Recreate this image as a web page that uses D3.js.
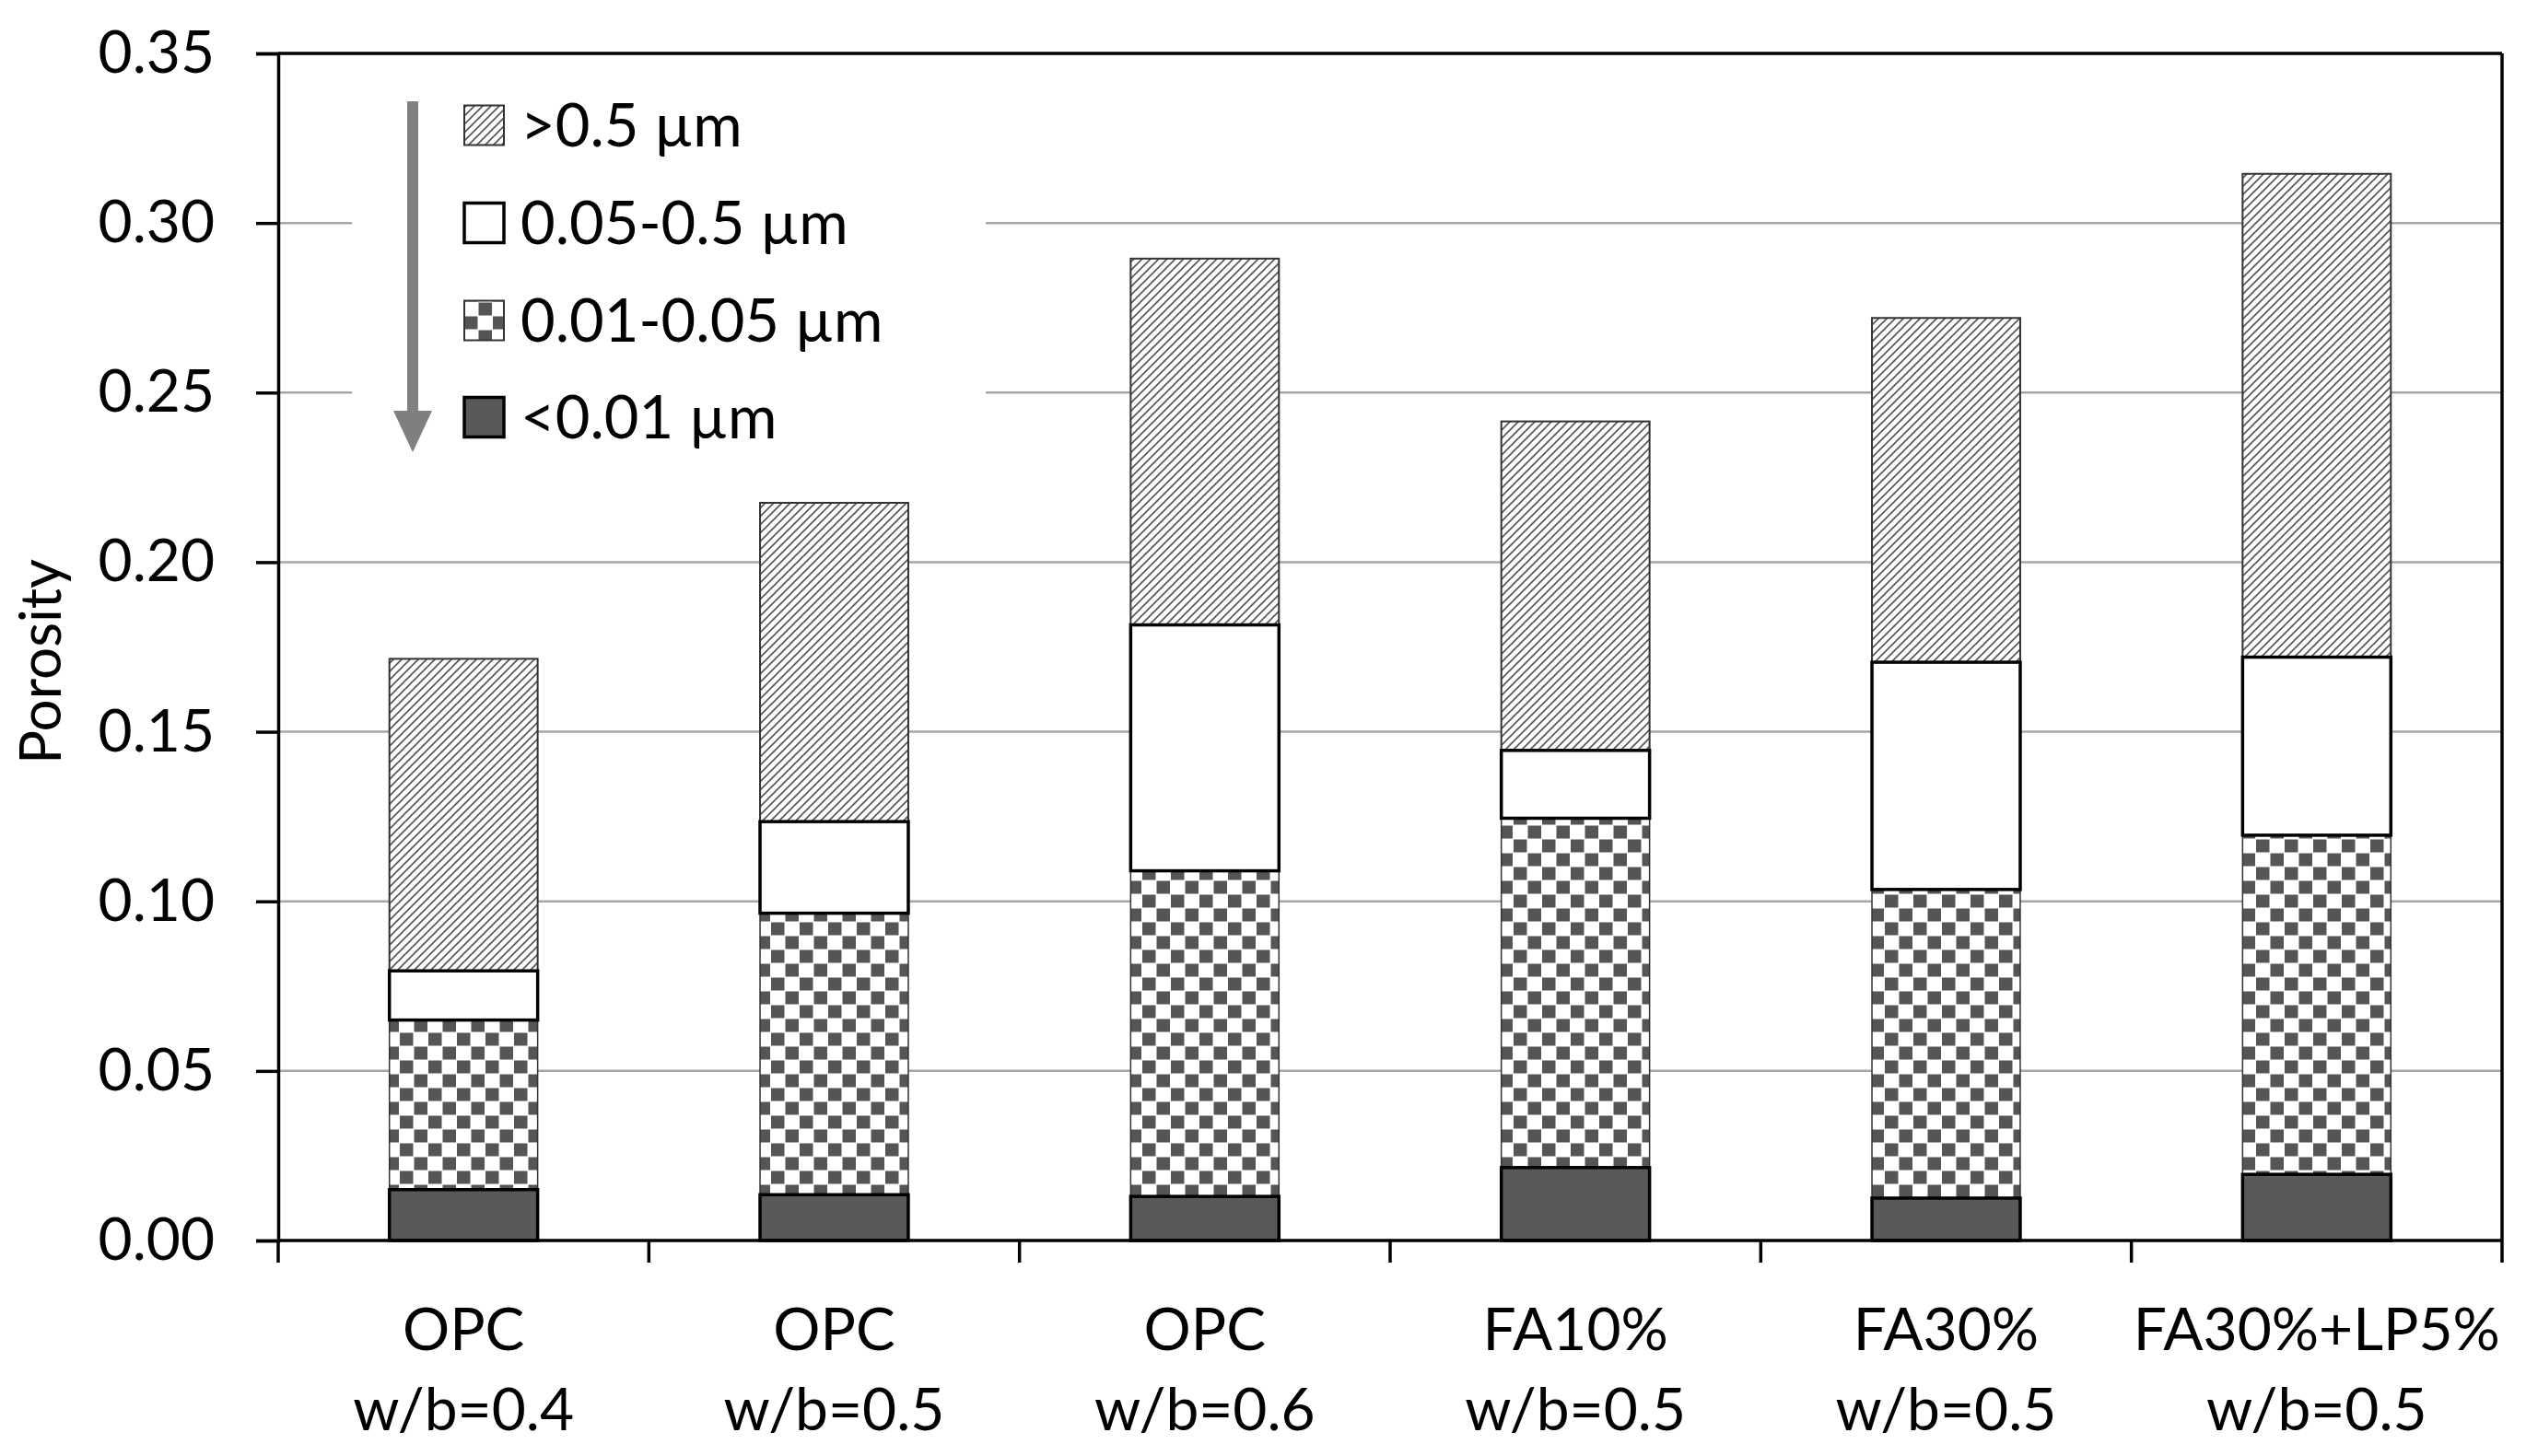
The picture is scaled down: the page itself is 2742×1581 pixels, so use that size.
<!DOCTYPE html>
<html>
<head>
<meta charset="utf-8">
<script src="https://cdn.jsdelivr.net/npm/d3@7"></script>
<style>
  html, body { margin: 0; padding: 0; background: #fff; }
  svg { display: block; }
  text { font-family: Lato, "Open Sans", sans-serif; fill: #000; }
</style>
</head>
<body>
<svg id="chart" width="2742" height="1581"></svg>
<script>
// ---------- data ----------
const categoriesLine1 = ["OPC", "OPC", "OPC", "FA10%", "FA30%", "FA30%+LP5%"];
const categoriesLine2 = ["w/b=0.4", "w/b=0.5", "w/b=0.6", "w/b=0.5", "w/b=0.5", "w/b=0.5"];
const seriesNames = ["<0.01 µm", "0.01-0.05 µm", "0.05-0.5 µm", ">0.5 µm"];
const poreLt001   = [0.015, 0.0135, 0.013, 0.0215, 0.0125, 0.0195];
const pore001_005 = [0.050, 0.083, 0.096, 0.103, 0.091, 0.100];
const pore005_05  = [0.0145, 0.027, 0.0725, 0.020, 0.067, 0.0525];
const poreGt05    = [0.092, 0.094, 0.108, 0.097, 0.1015, 0.1425];
const yTicks = [0, 0.05, 0.10, 0.15, 0.20, 0.25, 0.30, 0.35];
const yTitle = "Porosity";

// ---------- layout ----------
const W = 2742, H = 1581;
const margin = { left: 302, right: 26, top: 58, bottom: 234 };
const iw = W - margin.left - margin.right;
const ih = H - margin.top - margin.bottom;

const svg = d3.select("#chart");

// patterns
const defs = svg.append("defs");
const hp = 9;
const hatch = defs.append("pattern")
  .attr("id", "hatch").attr("patternUnits", "userSpaceOnUse")
  .attr("width", hp).attr("height", hp);
hatch.append("rect").attr("width", hp).attr("height", hp).attr("fill", "#fff");
hatch.append("path").attr("d", `M-2,${hp + 2} L${hp + 2},-2 M-2,2 L2,-2 M${hp - 2},${hp + 2} L${hp + 2},${hp - 2}`)
  .attr("stroke", "#555").attr("stroke-width", 1.6);

const checker = defs.append("pattern")
  .attr("id", "checker").attr("patternUnits", "userSpaceOnUse")
  .attr("x", margin.left).attr("y", margin.top)
  .attr("width", 31).attr("height", 30);
checker.append("rect").attr("width", 31).attr("height", 30).attr("fill", "#fff");
checker.append("rect").attr("x", 0.5).attr("y", 0.5).attr("width", 14.5).attr("height", 14).attr("fill", "#555");
checker.append("rect").attr("x", 16).attr("y", 15.5).attr("width", 14.5).attr("height", 14).attr("fill", "#555");

const styles = [
  { fill: "#595959", stroke: "#000", sw: 3.5 },
  { fill: "url(#checker)", stroke: "#333", sw: 1.5 },
  { fill: "#fff", stroke: "#000", sw: 3.5 },
  { fill: "url(#hatch)", stroke: "#333", sw: 2 }
];

const g = svg.append("g").attr("transform", `translate(${margin.left},${margin.top})`);

const idx = d3.range(categoriesLine1.length);
const x = d3.scaleBand().domain(idx).range([0, iw]).paddingInner(0.6).paddingOuter(0.3);
const y = d3.scaleLinear().domain([0, 0.35]).range([ih, 0]);

// gridlines
g.append("g").selectAll("line").data(yTicks.slice(1, -1)).join("line")
  .attr("x1", 0).attr("x2", iw)
  .attr("y1", d => y(d)).attr("y2", d => y(d))
  .attr("stroke", "#a6a6a6").attr("stroke-width", 2.5);

// legend background (hides gridlines)
const legendG = g.append("g");
legendG.append("rect")
  .attr("x", 382 - margin.left).attr("y", 70 - margin.top)
  .attr("width", 1070 - 382).attr("height", 450)
  .attr("fill", "#fff");

// stacked data
const rows = idx.map(i => ({ i, a: poreLt001[i], b: pore001_005[i], c: pore005_05[i], d: poreGt05[i] }));
const stack = d3.stack().keys(["a", "b", "c", "d"]);
const stacked = stack(rows);

// draw thin-outlined series first, then thick-outlined ones
const drawOrder = [1, 3, 2, 0];
drawOrder.forEach(k => {
  const s = stacked[k];
  g.append("g").selectAll("rect").data(s).join("rect")
    .attr("x", d => x(d.data.i))
    .attr("width", x.bandwidth())
    .attr("y", d => y(d[1]))
    .attr("height", d => y(d[0]) - y(d[1]))
    .attr("fill", styles[k].fill)
    .attr("stroke", styles[k].stroke)
    .attr("stroke-width", styles[k].sw);
});

// frame
g.append("line").attr("x1", 0).attr("x2", iw).attr("y1", 0).attr("y2", 0)
  .attr("stroke", "#000").attr("stroke-width", 3.5);
g.append("line").attr("x1", iw).attr("x2", iw).attr("y1", 0).attr("y2", ih)
  .attr("stroke", "#000").attr("stroke-width", 3.5);

// y axis
const yAxis = d3.axisLeft(y).tickValues(yTicks).tickFormat(d3.format(".2f"))
  .tickSize(24).tickPadding(45);
const ya = g.append("g").call(yAxis);
ya.select(".domain").attr("stroke", "#000").attr("stroke-width", 3.5);
ya.selectAll(".tick line").attr("stroke", "#000").attr("stroke-width", 3.5);
ya.selectAll(".tick text").attr("font-size", 64).attr("font-family", "Lato").attr("fill", "#000");

// x axis (category boundaries as ticks)
g.append("line").attr("x1", 0).attr("x2", iw).attr("y1", ih).attr("y2", ih)
  .attr("stroke", "#000").attr("stroke-width", 3.5);
const step = x.step();
const boundaries = d3.range(categoriesLine1.length + 1).map(i => x(0) - x.paddingOuter() * step + i * step);
g.append("g").selectAll("line").data(boundaries).join("line")
  .attr("x1", d => d).attr("x2", d => d)
  .attr("y1", ih).attr("y2", ih + 24)
  .attr("stroke", "#000").attr("stroke-width", 3.5);

// category labels
const lab = g.append("g").attr("font-size", 64).attr("text-anchor", "middle");
lab.selectAll("text.l1").data(idx).join("text").attr("class", "l1")
  .attr("x", i => x(i) + x.bandwidth() / 2).attr("y", 1466 - margin.top)
  .text(i => categoriesLine1[i]);
lab.selectAll("text.l2").data(idx).join("text").attr("class", "l2")
  .attr("x", i => x(i) + x.bandwidth() / 2).attr("y", 1553 - margin.top)
  .text(i => categoriesLine2[i]);

// y title
svg.append("text")
  .attr("transform", `translate(66,${margin.top + ih / 2 + 16}) rotate(-90)`)
  .attr("text-anchor", "middle").attr("font-size", 62)
  .text(yTitle);

// legend
const legendOrder = [3, 2, 1, 0];
const rowCenters = [136, 242, 348, 453];
const lg = svg.append("g");
legendOrder.forEach((k, j) => {
  const cy = rowCenters[j];
  lg.append("rect").attr("x", 504).attr("y", cy - 21.5).attr("width", 43).attr("height", 43)
    .attr("fill", styles[k].fill).attr("stroke", k === 0 || k === 2 ? "#000" : "#333")
    .attr("stroke-width", k === 0 || k === 2 ? 3.5 : 2);
  lg.append("text").attr("x", 565).attr("y", cy + 23).attr("font-size", 65)
    .text(seriesNames[k]);
});

// arrow
lg.append("line").attr("x1", 448).attr("x2", 448).attr("y1", 110).attr("y2", 452)
  .attr("stroke", "#7f7f7f").attr("stroke-width", 12);
lg.append("path").attr("d", "M427,446 L469,446 L448,491 Z").attr("fill", "#7f7f7f");
</script>
</body>
</html>
